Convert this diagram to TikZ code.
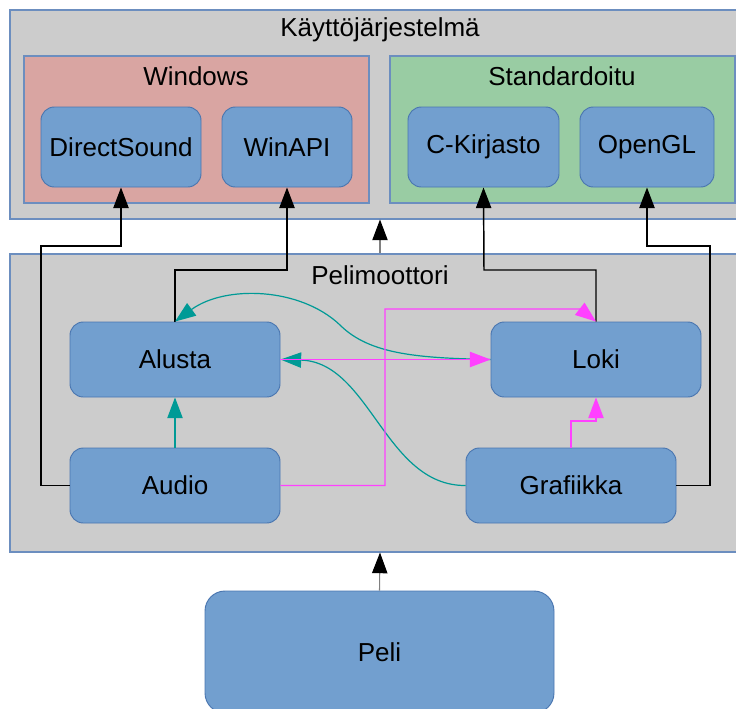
\documentclass[tikz,border=0pt]{standalone}
\usepackage{fontspec}
\setmainfont{Liberation Sans}
\usetikzlibrary{arrows.meta}
\definecolor{grayfill}{HTML}{CCCCCC}
\definecolor{frameblue}{HTML}{6C8EBF}
\definecolor{winfill}{HTML}{D9A5A2}
\definecolor{stdfill}{HTML}{99CCA3}
\definecolor{boxfill}{HTML}{729FCF}
\definecolor{boxline}{HTML}{4A76B0}
\definecolor{tealc}{HTML}{009A96}
\definecolor{magc}{HTML}{FF40FF}
\begin{document}
\begin{tikzpicture}[x=0.75pt,y=-0.75pt,
  every node/.style={font=\fontsize{19.5}{23}\selectfont},
  container/.style={draw=frameblue, line width=0.8pt, rectangle, inner sep=0pt},
  compbox/.style={draw=boxline, fill=boxfill, line width=0.7pt, rounded corners=10pt, inner sep=0pt, minimum height=56.25pt},
  title/.style={inner sep=0pt, anchor=center},
  blk/.style={draw=black, line width=1.1pt, -{Triangle[length=15.5pt,width=11.5pt]}},
  grayarrow/.style={draw=gray, line width=0.8pt, -{Triangle[length=15.5pt,width=11.5pt,color=black]}},
  tealarrow/.style={draw=tealc, line width=0.9pt, -{Triangle[length=15.5pt,width=11.5pt]}},
  magarrow/.style={draw=magc, line width=0.9pt, -{Triangle[length=15.5pt,width=11.5pt]}}
]
\useasboundingbox (0,0) rectangle (736,708);
% containers
\node[container, fill=grayfill, minimum width=555pt, minimum height=156.75pt] (os) at (380,114.5) {};
\node[container, fill=winfill, minimum width=258.75pt, minimum height=110.25pt] (win) at (196.5,129.5) {};
\node[container, fill=stdfill, minimum width=258.75pt, minimum height=110.25pt] (std) at (562.5,129.5) {};
\node[container, fill=grayfill, minimum width=555pt, minimum height=223.5pt] (eng) at (380,403) {};
% titles
\node[title] (ostitle) at (380,30) {Käyttöjärjestelmä};
\node[title] (wintitle) at (196,76) {Windows};
\node[title] (stdtitle) at (562,76) {Standardoitu};
\node[title] (engtitle) at (380,275) {Pelimoottori};
% OS components
\node[compbox, minimum width=120pt, minimum height=60pt] (ds) at (121,147) {DirectSound};
\node[compbox, minimum width=97.5pt, minimum height=60pt] (winapi) at (287,147) {WinAPI};
\node[compbox, minimum width=113.25pt, minimum height=60pt] (ckir) at (483.5,147) {C-Kirjasto};
\node[compbox, minimum width=100.5pt, minimum height=60pt] (ogl) at (647,147) {OpenGL};
% engine components
\node[compbox, minimum width=157.5pt] (alusta) at (175,359.5) {Alusta};
\node[compbox, minimum width=157.5pt] (loki) at (596,359.5) {Loki};
\node[compbox, minimum width=157.5pt] (audio) at (175,485.5) {Audio};
\node[compbox, minimum width=157.5pt] (graf) at (571,485.5) {Grafiikka};
% game
\node[compbox, rounded corners=15pt, minimum width=261.75pt, minimum height=91.5pt] (peli) at (379.5,652) {Peli};
% coordinates for routed connectors
\coordinate (c1) at (41,246);
\coordinate (c2) at (287,270);
\coordinate (c3) at (484,270);
\coordinate (c4) at (710,246);
\coordinate (c5) at (385,309);
\coordinate (c6) at (580,309);
\coordinate (c7) at (596,421);
% black dependencies
\draw[blk] (audio.west) -| (c1) -| (ds.south);
\draw[blk] (alusta.north) |- (c2) -- (winapi.south);
\draw[blk] (loki.north) |- (c3) -- (ckir.south);
\draw[blk] (graf.east) -| (c4) -| (ogl.south);
% layer arrows
\draw[grayarrow] (eng.north) -- (os.south);
\draw[grayarrow] (peli.north) -- (eng.south);
% teal
\draw[tealarrow] (audio.north) -- (alusta.south);
\draw[tealarrow] (loki.west) .. controls (420,358) and (370,355) .. (340,325)
                 .. controls (300,287) and (225,285) .. (alusta.north);
\draw[tealarrow] (graf.west) .. controls (385,486) and (370,362) .. (alusta.east);
% magenta
\draw[magarrow] (alusta.east) -- (loki.west);
\draw[magarrow] (audio.east) -| (c5) -- (c6) -- (loki.north);
\draw[magarrow] (graf.north) |- (c7) -- (loki.south);
\end{tikzpicture}
\end{document}
